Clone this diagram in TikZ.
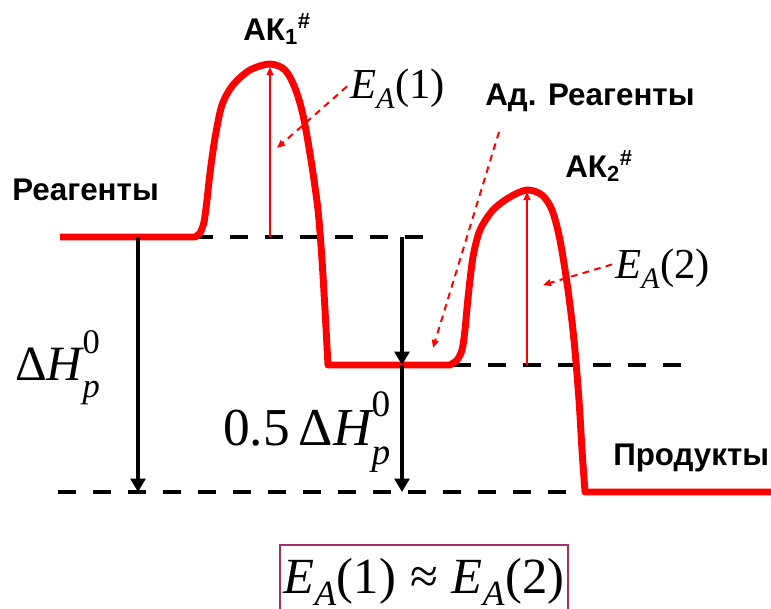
\documentclass[tikz,border=0pt]{standalone}
\usepackage{fix-cm}
\usepackage{amsmath}
\usepackage{fontspec}
\setmainfont{Liberation Sans}
\newfontfamily\tms{Liberation Serif}
\usetikzlibrary{arrows.meta,positioning,calc}
\definecolor{frmc}{RGB}{160,50,105}
\newcommand{\tv}[1]{\text{\tms #1}}
\newcommand{\ti}[1]{\text{\tms\itshape #1}}
\newcommand{\EA}[1]{\ti{E}_{\ti{\raisebox{-0.3ex}{A}}}\tv{(#1)}}
\newcommand{\dHp}{\tv{Δ}\ti{H}_{\ti{\raisebox{-0.35ex}{p}}}^{\tv{\raisebox{0.45ex}{0}}}}
\tikzset{
  prof/.style={red,line width=5.2pt,line join=round},
  lvl/.style={black,line width=3.4pt,dash pattern=on 13.5pt off 12.75pt},
  dh/.style={-{Triangle[length=10pt,width=11pt]},line width=2.6pt},
  ea/.style={red,-{Triangle[length=6pt,width=5pt]},line width=1.5pt},
  ptr/.style={red,-{Triangle[length=6pt,width=5pt]},line width=1.5pt,dash pattern=on 5pt off 4pt},
  lbl/.style={font=\bfseries\fontsize{23.5}{26}\selectfont,inner sep=0pt,anchor=base west},
  mth/.style={inner sep=0pt,anchor=base west},
  frm/.style={draw=frmc,line width=2.2pt,anchor=base,minimum width=216pt,text height=36pt,text depth=20pt,inner sep=0pt,font=\fontsize{38}{42}\selectfont},
}

\begin{document}
\begin{tikzpicture}[x=0.75pt,y=-0.75pt]
  \useasboundingbox (0,0) rectangle (771,608);
  \clip (0,0) rectangle (771,608);
  % levels
  \coordinate (r1) at (138,237);
  \coordinate (r2) at (138,492);
  \coordinate (m1) at (402,237);
  \coordinate (m2) at (402,365);
  \coordinate (m3) at (402,492);
  \coordinate (b1) at (270,237);
  \coordinate (k1) at (270,67);
  \coordinate (b2) at (527,365);
  \coordinate (k2) at (527,192);
  \draw[lvl] (195,237) -- (425,237);
  \draw[lvl] (453,365) -- (684,365);
  \draw[lvl] (58,492) -- (585,492);
  % energy profile
  \draw[prof] (60,237) -- plot[smooth,tension=0.5] coordinates {(195,237) (200,233) (204,222) (207,200) (210,173) (215,138) (222,105) (233,85) (250,70) (270,64) (285,70) (295,88) (303,115) (311,160) (318,210) (322,260) (325,310) (328,365)}
    -- plot[smooth,tension=0.5] coordinates {(450,365) (457,360) (462,350) (465,330) (468,298) (473,257) (480,230) (493,210) (510,197) (527,190) (542,195) (552,210) (560,240) (568,290) (574,340) (579,400) (582,450) (585,492)}
    -- (771,492);
  % arrows
  \draw[dh] (r1) -- (r2);
  \draw[dh] (m1) -- (m2);
  \draw[dh] (m2) -- (m3);
  \draw[ea] (b1) -- (k1);
  \draw[ea] (b2) -- (k2);
  % labels
  \node[lbl] (reag) at (12,200) {Реагенты};
  \node[lbl] (ak1) at (243,40) {АК\textsubscript{1}\textsuperscript{\#}};
  \node[lbl] (adr) at (485,105) {Ад. Реагенты};
  \node[lbl] (ak2) at (565,177) {АК\textsubscript{2}\textsuperscript{\#}};
  \node[lbl] (prod) at (613,465) {Продукты};
  \node[mth,font=\fontsize{37}{40}\selectfont] (dh1) at (15,380) {$\dHp$};
  \node[mth,font=\fontsize{40}{44}\selectfont] (dh2) at (223,445) {$\tv{0.5}\,\dHp$};
  \node[mth,font=\fontsize{32}{35}\selectfont] (ea1) at (350,98) {$\EA{1}$};
  \node[mth,font=\fontsize{32}{35}\selectfont] (ea2) at (615,278) {$\EA{2}$};
  \node[frm] (eq) at (424,593) {$\EA{1}\mathrel{\tv{≈}}\EA{2}$};
  % pointers
  \coordinate (t1) at (277,148);
  \coordinate (a0) at (499,132);
  \coordinate (t0) at (433,348);
  \coordinate (t2) at (543,285);
  \draw[ptr] ($(ea1.west)+(-3,-2)$) -- (t1);
  \draw[ptr] (a0) -- (t0);
  \draw[ptr] ($(ea2.west)+(-3,-4)$) -- (t2);
\end{tikzpicture}
\end{document}
